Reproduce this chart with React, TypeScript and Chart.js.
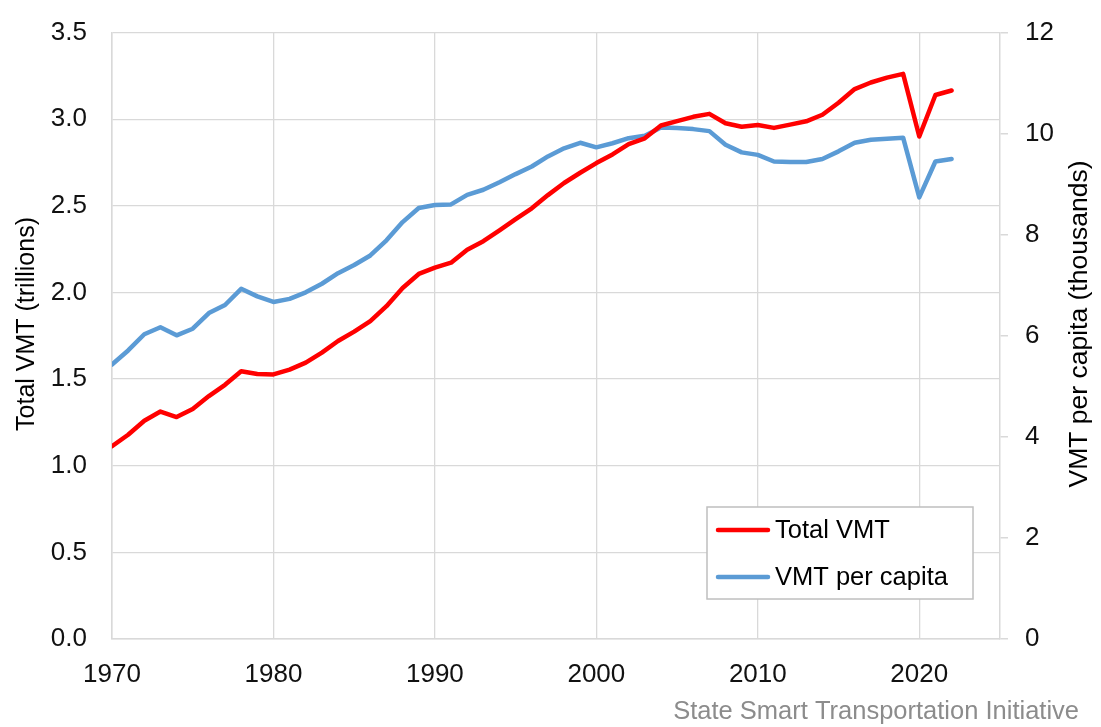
import React, { useEffect, useRef } from "react";
import { Chart, registerables } from "chart.js";

Chart.register(...registerables);

const years: number[] = [
  1970, 1971, 1972, 1973, 1974, 1975, 1976, 1977, 1978, 1979,
  1980, 1981, 1982, 1983, 1984, 1985, 1986, 1987, 1988, 1989,
  1990, 1991, 1992, 1993, 1994, 1995, 1996, 1997, 1998, 1999,
  2000, 2001, 2002, 2003, 2004, 2005, 2006, 2007, 2008, 2009,
  2010, 2011, 2012, 2013, 2014, 2015, 2016, 2017, 2018, 2019,
  2020, 2021, 2022,
];

// Total VMT, trillions
const totalVMT: number[] = [
  1.113, 1.179, 1.26, 1.313, 1.281, 1.328, 1.402, 1.467, 1.545, 1.529,
  1.527, 1.555, 1.595, 1.653, 1.72, 1.774, 1.835, 1.921, 2.026, 2.107,
  2.144, 2.172, 2.247, 2.296, 2.358, 2.423, 2.486, 2.562, 2.632, 2.691,
  2.747, 2.797, 2.856, 2.89, 2.964, 2.989, 3.014, 3.031, 2.977, 2.957,
  2.967, 2.95, 2.969, 2.988, 3.026, 3.095, 3.174, 3.212, 3.24, 3.262,
  2.9, 3.14, 3.166,
];

// VMT per capita, thousands
const perCapita: number[] = [
  5.43, 5.71, 6.03, 6.17, 6.01, 6.14, 6.45, 6.61, 6.93, 6.78,
  6.67, 6.73, 6.86, 7.03, 7.24, 7.4, 7.59, 7.89, 8.25, 8.53,
  8.59, 8.6, 8.79, 8.89, 9.04, 9.2, 9.35, 9.55, 9.71, 9.82,
  9.73, 9.81, 9.91, 9.96, 10.12, 10.11, 10.09, 10.05, 9.78, 9.63,
  9.58, 9.45, 9.44, 9.44, 9.5, 9.65, 9.82, 9.88, 9.9, 9.92,
  8.74, 9.45, 9.5,
];

const xTickValues: number[] = [1970, 1980, 1990, 2000, 2010, 2020];

const seriesNames: string[] = ["Total VMT", "VMT per capita"];
const seriesColors: string[] = ["#ff0000", "#5b9bd5"];
const leftTitle = "Total VMT (trillions)";
const rightTitle = "VMT per capita (thousands)";
const sourceText = "State Smart Transportation Initiative";

const FONT = "'Liberation Sans', Arial, Helvetica, sans-serif";
const GRID = "#d9d9d9";

const overlayPlugin = {
  id: "overlay",
  afterDraw(chart: any) {
    const ctx = chart.ctx as CanvasRenderingContext2D;
    ctx.save();
    ctx.fillStyle = "#000";
    ctx.textAlign = "center";
    ctx.textBaseline = "middle";
    // left title
    ctx.font = `25px ${FONT}`;
    ctx.save();
    ctx.translate(27, 324);
    ctx.rotate(-Math.PI / 2);
    ctx.fillText(leftTitle, 0, 0);
    ctx.restore();
    // right title
    ctx.font = `26.5px ${FONT}`;
    ctx.save();
    ctx.translate(1080, 324);
    ctx.rotate(-Math.PI / 2);
    ctx.fillText(rightTitle, 0, 0);
    ctx.restore();
    // source
    ctx.font = `25.5px ${FONT}`;
    ctx.fillStyle = "#8c8c8c";
    ctx.textAlign = "right";
    ctx.fillText(sourceText, 1079, 712);

    // legend
    ctx.font = `25.5px ${FONT}`;
    const lx = 707, ly = 507, lw = 266, lh = 92;
    ctx.fillStyle = "#fff";
    ctx.fillRect(lx, ly, lw, lh);
    ctx.strokeStyle = "#bfbfbf";
    ctx.lineWidth = 1.5;
    ctx.strokeRect(lx, ly, lw, lh);
    const rows = [530, 577];
    seriesNames.forEach((name, i) => {
      ctx.strokeStyle = seriesColors[i];
      ctx.lineWidth = 4.5;
      ctx.lineCap = "round";
      ctx.beginPath();
      ctx.moveTo(718, rows[i]);
      ctx.lineTo(768, rows[i]);
      ctx.stroke();
      ctx.fillStyle = "#000";
      ctx.textAlign = "left";
      ctx.fillText(name, 775, rows[i] + 1);
    });
    ctx.restore();
  },
};

export default function App() {
  const ref = useRef<HTMLCanvasElement | null>(null);

  useEffect(() => {
    if (!ref.current) return;
    const chart = new Chart(ref.current, {
      type: "line",
      data: {
        datasets: [
          {
            label: seriesNames[0],
            data: years.map((x, i) => ({ x, y: totalVMT[i] })),
            borderColor: seriesColors[0],
            backgroundColor: seriesColors[0],
            borderWidth: 4.5,
            pointRadius: 0,
            tension: 0,
            yAxisID: "y",
            borderJoinStyle: "round",
            borderCapStyle: "round",
          },
          {
            label: seriesNames[1],
            data: years.map((x, i) => ({ x, y: perCapita[i] })),
            borderColor: seriesColors[1],
            backgroundColor: seriesColors[1],
            borderWidth: 4.5,
            pointRadius: 0,
            tension: 0,
            yAxisID: "y1",
            borderJoinStyle: "round",
            borderCapStyle: "round",
          },
        ],
      },
      options: {
        responsive: false,
        animation: false,
        layout: { padding: { top: 32, left: 0, right: 0, bottom: 0 } },
        plugins: {
          legend: { display: false },
          tooltip: { enabled: false },
        },
        scales: {
          x: {
            type: "linear",
            min: 1970,
            max: 2025,
            afterBuildTicks: (s: any) => {
              s.ticks = xTickValues.map((v) => ({ value: v }));
            },
            afterFit: (s: any) => {
              s.height = 88;
            },
            ticks: {
              padding: 20,
              color: "#111",
              font: { family: FONT, size: 26 },
              callback: (v: any) => String(v),
              maxRotation: 0,
              autoSkip: false,
            },
            grid: { color: GRID, lineWidth: 1.3, drawTicks: false },
            border: { display: true, color: GRID, width: 1.5 },
          },
          y: {
            position: "left",
            min: 0,
            max: 3.5,
            afterFit: (s: any) => {
              s.width = 112;
            },
            ticks: {
              stepSize: 0.5,
              padding: 0,
              color: "#111",
              font: { family: FONT, size: 26 },
              callback: (v: any) => Number(v).toFixed(1),
            },
            grid: {
              color: GRID,
              lineWidth: 1.3,
              drawTicks: true,
              tickLength: 25,
              tickColor: "rgba(0,0,0,0)",
            },
            border: { display: true, color: GRID, width: 1.5 },
          },
          y1: {
            position: "right",
            min: 0,
            max: 12,
            afterFit: (s: any) => {
              s.width = 101;
            },
            ticks: {
              stepSize: 2,
              padding: 17,
              color: "#111",
              font: { family: FONT, size: 26 },
            },
            grid: {
              drawOnChartArea: false,
              drawTicks: true,
              tickLength: 8,
              color: GRID,
              lineWidth: 1.5,
            },
            border: { display: true, color: GRID, width: 1.5 },
          },
        },
      },
      plugins: [overlayPlugin],
    } as any);
    return () => chart.destroy();
  }, []);

  return (
    <div style={{ position: "absolute", left: 0, top: 0, width: 1101, height: 727, background: "#fff" }}>
      <canvas ref={ref} width={1101} height={727} style={{ display: "block", width: 1101, height: 727 }} />
    </div>
  );
}
